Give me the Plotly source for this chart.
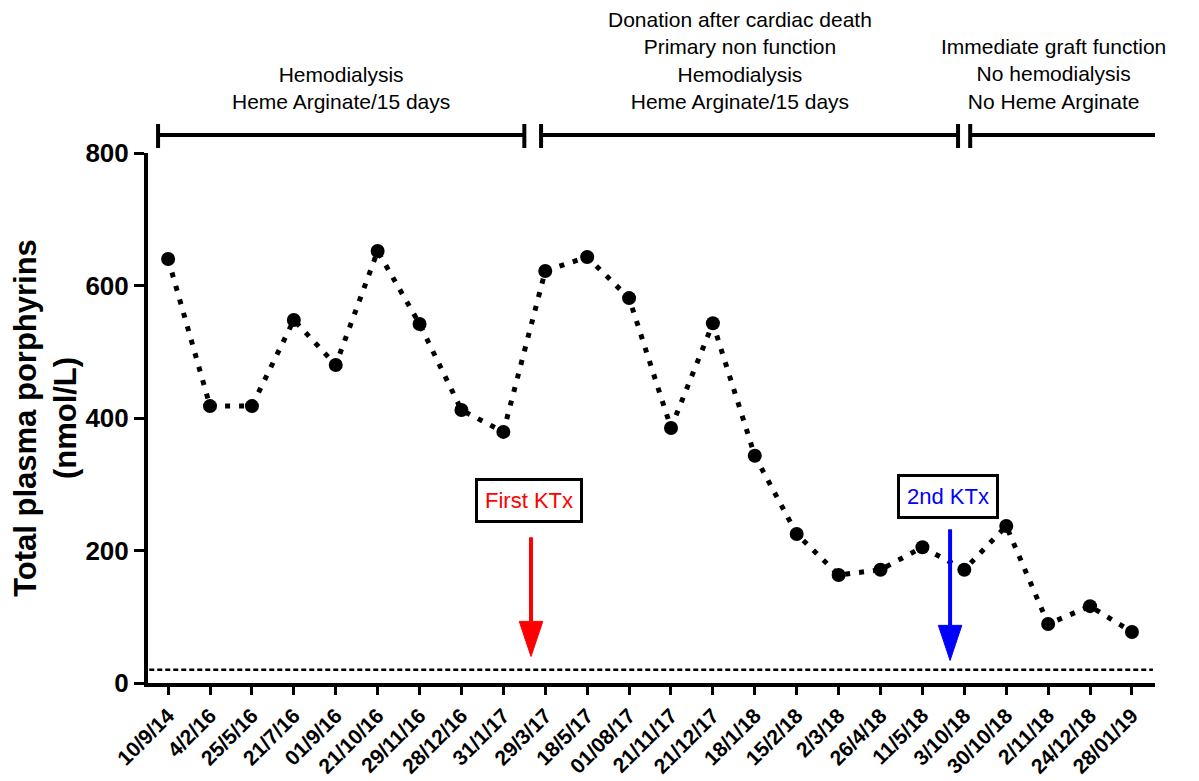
import plotly.graph_objects as go

dates = ["10/9/14", "4/2/16", "25/5/16", "21/7/16", "01/9/16", "21/10/16", "29/11/16",
         "28/12/16", "31/1/17", "29/3/17", "18/5/17", "01/08/17", "21/11/17", "21/12/17",
         "18/1/18", "15/2/18", "2/3/18", "26/4/18", "11/5/18", "3/10/18", "30/10/18",
         "2/11/18", "24/12/18", "28/01/19"]
porphyrins = [640, 418, 418, 548, 480, 652, 542, 412, 379, 622, 643, 581, 385, 543,
              343, 225, 163, 171, 205, 171, 237, 89, 116, 77]
normal_limit = 20
y_ticks = [0, 200, 400, 600, 800]

periods = [
    {"x0": -0.24, "x1": 8.5, "tx": 4.13, "text": "Hemodialysis<br>Heme Arginate/15 days"},
    {"x0": 8.9, "x1": 18.85, "tx": 13.65, "text": "Donation after cardiac death<br>Primary non function<br>Hemodialysis<br>Heme Arginate/15 days"},
    {"x0": 19.14, "x1": 23.6, "tx": 21.13, "text": "Immediate graft function<br>No hemodialysis<br>No Heme Arginate"},
]
events = [
    {"x": 8.66, "label": "First KTx", "color": "#ff0000", "top": 220, "tip": 40, "box_y": 276},
    {"x": 18.66, "label": "2nd KTx", "color": "#0000ff", "top": 232, "tip": 34, "box_y": 281},
]

idx = list(range(len(dates)))
fig = go.Figure()

fig.add_trace(go.Scatter(
    x=[-0.45, 23.5], y=[normal_limit, normal_limit], mode="lines",
    line=dict(color="black", width=2.5, dash="5px,3px"), hoverinfo="skip", showlegend=False))

fig.add_trace(go.Scatter(
    x=idx, y=porphyrins, mode="lines+markers",
    line=dict(color="black", width=5, dash="5px,9px"),
    marker=dict(color="black", size=14), showlegend=False))

shapes = []
annotations = []
plot_top, plot_bottom = 153, 683


def py(p):
    return (plot_bottom - p) / (plot_bottom - plot_top)


for p in periods:
    yb = py(135)
    shapes.append(dict(type="line", xref="x", yref="paper", x0=p["x0"], x1=p["x1"], y0=yb, y1=yb,
                       line=dict(color="black", width=4)))
    for xx in (p["x0"], p["x1"]):
        shapes.append(dict(type="line", xref="x", yref="paper", x0=xx, x1=xx, y0=py(124), y1=py(148),
                           line=dict(color="black", width=4)))
    annotations.append(dict(xref="x", yref="paper", x=p["tx"], y=py(115),
                            text=p["text"], showarrow=False, yanchor="bottom",
                            font=dict(family="Liberation Sans, Arial", size=21, color="black")))

for e in events:
    head_base = e["tip"] + 53
    shapes.append(dict(type="line", xref="x", yref="y", x0=e["x"], x1=e["x"], y0=e["top"], y1=head_base,
                       line=dict(color=e["color"], width=4)))
    shapes.append(dict(type="path", xref="x", yref="y",
                       path=f"M {e['x'] - 0.28} {head_base} L {e['x'] + 0.28} {head_base} L {e['x']} {e['tip']} Z",
                       fillcolor=e["color"], line=dict(color=e["color"], width=1)))
    annotations.append(dict(xref="x", yref="y", x=e["x"] - 0.05, y=e["box_y"], text=e["label"],
                            showarrow=False, bgcolor="white", bordercolor="black", borderwidth=3,
                            borderpad=7,
                            font=dict(family="Liberation Sans, Arial", size=22, color=e["color"])))

# page body has an 8px margin, so shrink the figure by that amount
off = 8
fig.update_layout(
    width=1199 - off, height=781 - off,
    margin=dict(l=148 - off, r=44, t=plot_top - off, b=781 - plot_bottom, autoexpand=False),
    paper_bgcolor="white", plot_bgcolor="white",
    shapes=shapes, annotations=annotations,
    font=dict(family="Liberation Sans, Arial", color="black"),
)
fig.update_xaxes(
    range=[-0.48, 23.55], tickmode="array", tickvals=idx, ticktext=[f"<b>{d}</b>" for d in dates],
    tickangle=-45, tickfont=dict(size=21, family="Liberation Sans, Arial", color="black"),
    showline=True, linecolor="black", linewidth=4, ticks="outside", ticklen=8, tickwidth=3,
    tickcolor="black", showgrid=False, zeroline=False, automargin=False)
fig.update_yaxes(
    range=[0, 800], tickmode="array", tickvals=y_ticks, ticktext=[f"<b>{v}</b>" for v in y_ticks],
    tickfont=dict(size=26, family="Liberation Sans, Arial", color="black"),
    showline=True, linecolor="black", linewidth=4, ticks="outside", ticklen=10, tickwidth=3,
    tickcolor="black", showgrid=False, zeroline=False, automargin=False,
    title=dict(text="<b>Total plasma porphyrins<br>(nmol/L)</b>",
               font=dict(size=31, family="Liberation Sans, Arial", color="black"), standoff=12))

fig.write_html("out.html")
